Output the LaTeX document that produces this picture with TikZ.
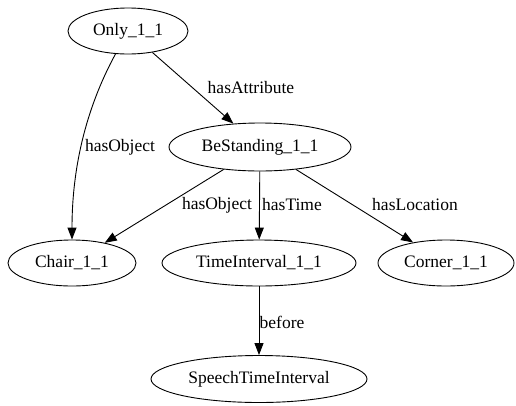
\documentclass[tikz,border=0pt]{standalone}
\usepackage{fontspec}
\setmainfont{Liberation Serif}
\usetikzlibrary{shapes.geometric,arrows.meta}
\begin{document}
\begin{tikzpicture}[x=1pt,y=-1pt,
  every node/.style={font=\fontsize{17.5}{20}\selectfont},
  gnode/.style={draw, ellipse, line width=0.9pt, inner sep=0pt},
  elabel/.style={inner sep=0pt},
  conn/.style={line width=0.9pt, -{Triangle[length=12pt,width=9pt]}}]
\useasboundingbox (0,0) rectangle (516,405);
\node[gnode, minimum width=120pt, minimum height=46pt] (only) at (128,31) {Only\_1\_1};
\node[gnode, minimum width=182pt, minimum height=48pt] (be) at (260,147) {BeStanding\_1\_1};
\node[gnode, minimum width=128pt, minimum height=46pt] (chair) at (72,263) {Chair\_1\_1};
\node[gnode, minimum width=194pt, minimum height=46pt] (ti) at (259,263) {TimeInterval\_1\_1};
\node[gnode, minimum width=136pt, minimum height=46pt] (corner) at (446,263) {Corner\_1\_1};
\node[gnode, minimum width=216pt, minimum height=47pt] (sti) at (259,379) {SpeechTimeInterval};
\draw[conn] (only) .. controls (85,110) and (72,170) .. (chair);
\draw[conn] (only) -- (be);
\draw[conn] (be) -- (chair);
\draw[conn] (be) -- (ti);
\draw[conn] (be) -- (corner);
\draw[conn] (ti) -- (sti);
\node[elabel] (l1) at (120,147) {hasObject};
\node[elabel] (l2) at (251,88) {hasAttribute};
\node[elabel] (l3) at (217,205) {hasObject};
\node[elabel] (l4) at (292,205) {hasTime};
\node[elabel] (l5) at (415,205) {hasLocation};
\node[elabel] (l6) at (282,322) {before};
\end{tikzpicture}
\end{document}
